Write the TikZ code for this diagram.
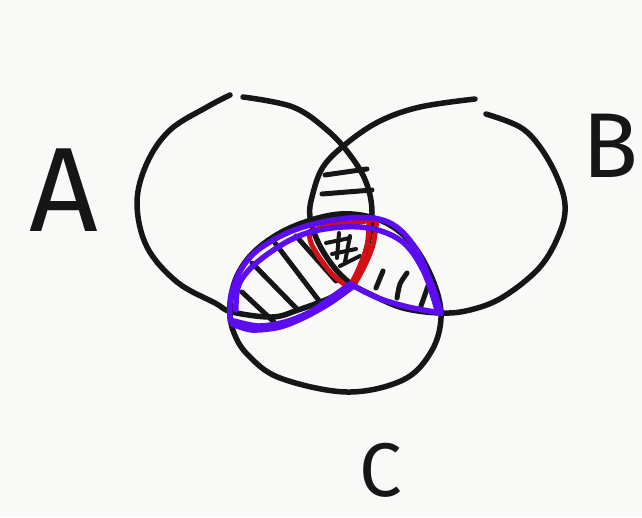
\documentclass[tikz,border=0pt]{standalone}
\usepackage{fontspec}
\setmainfont{Fira Sans}
\definecolor{bgcol}{RGB}{249,249,248}
\definecolor{inkcol}{RGB}{20,22,24}
\definecolor{purp}{RGB}{92,12,240}
\definecolor{redc}{RGB}{210,16,22}
\begin{document}
\begin{tikzpicture}[x=1pt,y=-1pt,
  ink/.style={draw=inkcol,line width=5.5pt,line cap=round,line join=round},
  hatch/.style={draw=inkcol,line width=5pt,line cap=round},
  purpline/.style={draw=purp,line width=5.5pt,line cap=round,line join=round},
  redline/.style={draw=redc,line width=5pt,line cap=round,line join=round},
  lbl/.style={inkcol,inner sep=0pt}]
\fill[bgcol] (0,0) rectangle (642,517);
\useasboundingbox (0,0) rectangle (642,517);
% circle A
\draw[ink] plot[smooth,tension=0.6] coordinates {(243,97) (293,107) (327,130) (350,155) (366,182) (372,212) (367,247) (353,283) (332,297) (298,310) (272,317) (232,312) (215,303) (177,282) (147,247) (137,203) (147,163) (170,130) (207,107) (230,95)};
% circle B
\draw[ink] plot[smooth,tension=0.6] coordinates {(486,114) (520,127) (540,147) (557,177) (565,205) (560,232) (540,267) (503,297) (470,310) (440,313) (403,308) (372,295) (350,283) (333,266) (318,242) (310,217) (312,197) (323,167) (347,143) (380,121) (420,107) (475,99)};
% circle C
\draw[ink] plot[smooth cycle,tension=0.6] coordinates {(340,214) (382,221) (413,245) (434,283) (441,318) (431,352) (403,380) (347,392) (280,378) (248,355) (234,333) (230,310) (236,278) (256,250) (292,227)};
% hatching A and B
\draw[hatch] (325,175) -- (367,169);
\draw[hatch] (322,194) -- (372,190);
% hatching A and C
\draw[hatch] (242,292) -- (274,322);
\draw[hatch] (252,263) -- (298,310);
\draw[hatch] (275,243) -- (320,302);
\draw[hatch] (296,236) -- (336,281);
% hatching B and C
\draw[hatch] (383,271) -- (376,288);
\draw[hatch] plot[smooth] coordinates {(407,273) (400,284) (397,298)};
\draw[hatch] (428,286) -- (421,306);
% center scribble
\draw[hatch,line width=4pt] (326,243) -- (350,238);
\draw[hatch,line width=4pt] (332,254) -- (356,249);
\draw[hatch,line width=4pt] (339,233) -- (337,258);
\draw[hatch,line width=4pt] (350,236) -- (345,262);
\draw[hatch,line width=4pt] (340,266) -- (360,256);
% red triple region
\draw[redline] plot[smooth] coordinates {(348,287) (333,275) (319,257) (311,243) (309,232)};
\draw[redline] plot[smooth] coordinates {(309,232) (330,225) (360,222) (377,219)};
\draw[redline] plot[smooth] coordinates {(377,219) (373,245) (364,267) (353,287)};
\draw[redline] plot[smooth] coordinates {(369,224) (367,246) (359,268) (351,284)};
% purple outline
\draw[purpline] plot[smooth,tension=0.6] coordinates {(230,318) (231,295) (242,268) (262,247) (300,228) (350,218) (388,222) (414,246) (432,285) (441,313)};
\draw[purpline] plot[smooth] coordinates {(441,313) (408,307) (378,298) (350,284)};
\draw[purpline] plot[smooth] coordinates {(350,284) (332,297) (310,312) (285,322) (258,326) (230,320)};
\draw[purpline] plot[smooth,tension=0.6] coordinates {(236,310) (240,282) (265,256) (307,233) (360,227) (400,240) (423,270) (437,310)};
\draw[purpline] plot[smooth] coordinates {(351,288) (330,303) (305,317) (280,327) (252,330) (232,324)};
% labels
\node[lbl,font=\fontsize{120}{120}\selectfont] (la) at (64,190) {A};
\node[lbl,font=\fontsize{92}{92}\selectfont] (lb) at (610,146) {B};
\node[lbl,font=\fontsize{76}{76}\selectfont] (lc) at (381,470) {C};
\end{tikzpicture}
\end{document}
